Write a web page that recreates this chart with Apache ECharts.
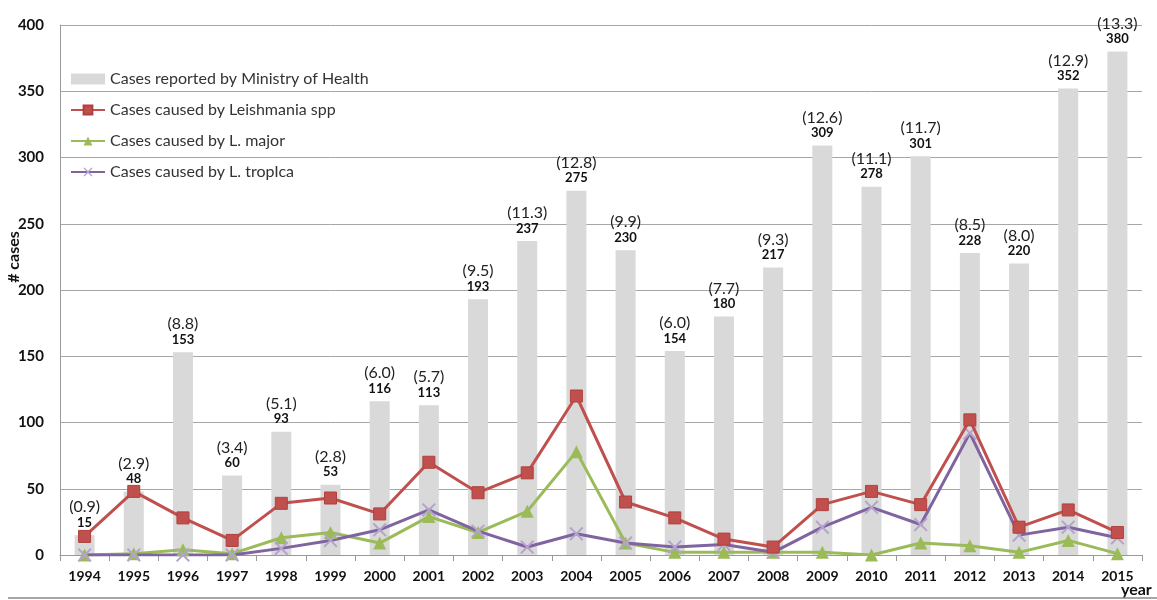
<!DOCTYPE html>
<html>
<head>
<meta charset="utf-8">
<script src="https://cdn.jsdelivr.net/npm/echarts@6/dist/echarts.min.js"></script>
<style>
	html, body { margin: 0; padding: 0; background: #fff; }
	#chart { width: 1157px; height: 600px; }
</style>
</head>
<body>
<div id="chart"></div>
<script>
	// data
	var years = ['1994','1995','1996','1997','1998','1999','2000','2001','2002','2003','2004',
		'2005','2006','2007','2008','2009','2010','2011','2012','2013','2014','2015'];
	var ministry = [15, 48, 153, 60, 93, 53, 116, 113, 193, 237, 275, 230, 154, 180, 217, 309, 278, 301, 228, 220, 352, 380];
	var rates = ['0.9','2.9','8.8','3.4','5.1','2.8','6.0','5.7','9.5','11.3','12.8','9.9','6.0','7.7','9.3','12.6','11.1','11.7','8.5','8.0','12.9','13.3'];
	var leishSpp = [14, 48, 28, 11, 39, 43, 31, 70, 47, 62, 120, 40, 28, 12, 6, 38, 48, 38, 102, 21, 34, 17];
	var lMajor = [0, 1, 4, 1, 13, 17, 9, 29, 17, 33, 78, 9, 2, 2, 2, 2, 0, 9, 7, 2, 11, 1];
	var lTropica = [0, 0, 0, 0, 5, 11, 19, 34, 18, 6, 16, 9, 6, 8, 2, 21, 36, 23, 92, 15, 21, 13];
	var yTicks = [0, 50, 100, 150, 200, 250, 300, 350, 400];

	var font = 'Lato, "Open Sans", sans-serif';
	var crossPath = 'path://M0,1L1,0L5,4L9,0L10,1L6,5L10,9L9,10L5,6L1,10L0,9L4,5Z';

	var chart = echarts.init(document.getElementById('chart'));
	chart.setOption({
		animation: false,
		textStyle: { fontFamily: font },
		grid: { left: 60, right: 15, top: 25, bottom: 45 },
		legend: {
			orient: 'vertical',
			left: 65,
			top: 66,
			itemWidth: 34,
			itemHeight: 11,
			itemGap: 15,
			textStyle: { fontSize: 16, color: '#333', fontFamily: font },
			data: [
				{ name: 'Cases reported by Ministry of Health', icon: 'rect' },
				'Cases caused by Leishmania spp',
				'Cases caused by L. major',
				'Cases caused by L. tropIca'
			]
		},
		xAxis: {
			type: 'category',
			data: years,
			axisLine: { lineStyle: { color: '#999', width: 1 } },
			axisTick: { show: true, alignWithLabel: false, length: 6, lineStyle: { color: '#999' } },
			axisLabel: { color: '#111', fontWeight: 'bold', fontSize: 14, margin: 14 }
		},
		yAxis: {
			type: 'value',
			min: yTicks[0],
			max: yTicks[yTicks.length - 1],
			interval: 50,
			axisLine: { show: true, lineStyle: { color: '#999' } },
			axisTick: { show: false },
			splitLine: { lineStyle: { color: '#a6a6a6', width: 1 } },
			axisLabel: { color: '#111', fontWeight: 'bold', fontSize: 15, margin: 16 }
		},
		graphic: [
			{ type: 'text', x: 14, y: 257, rotation: Math.PI / 2,
				style: { text: '# cases', font: 'bold 16px ' + font, fill: '#111', textAlign: 'center', textVerticalAlign: 'middle' } },
			{ type: 'text', x: 1121, y: 582,
				style: { text: 'year', font: 'bold 16px ' + font, fill: '#111' } },
			{ type: 'line', shape: { x1: 8, y1: 598, x2: 1157, y2: 598 },
				style: { stroke: '#888', lineWidth: 1.5 } }
		],
		series: [
			{
				name: 'Cases reported by Ministry of Health',
				type: 'bar',
				barWidth: 20,
				itemStyle: { color: '#d9d9d9' },
				data: ministry,
				label: {
					show: true,
					position: 'top',
					distance: 5,
					formatter: function (p) {
						return '{p|(' + rates[p.dataIndex] + ')}\n{v|' + p.value + '}';
					},
					rich: {
						p: { fontSize: 16, color: '#222', lineHeight: 16, fontFamily: font },
						v: { fontSize: 13, fontWeight: 'bold', color: '#111', lineHeight: 15, fontFamily: font }
					}
				}
			},
			{
				name: 'Cases caused by Leishmania spp',
				type: 'line',
				data: leishSpp,
				symbol: 'rect',
				symbolSize: 12,
				lineStyle: { color: '#c0504d', width: 3 },
				itemStyle: { color: '#c0504d', borderColor: '#b0413e', borderWidth: 1 },
				z: 4
			},
			{
				name: 'Cases caused by L. major',
				type: 'line',
				data: lMajor,
				symbol: 'triangle',
				symbolSize: 13,
				lineStyle: { color: '#9bbb59', width: 3 },
				itemStyle: { color: '#9bbb59' },
				z: 3
			},
			{
				name: 'Cases caused by L. tropIca',
				type: 'line',
				data: lTropica,
				symbol: crossPath,
				symbolSize: 14,
				lineStyle: { color: '#8064a2', width: 3 },
				itemStyle: { color: '#b4a3cc' },
				z: 3
			}
		]
	});
</script>
</body>
</html>
